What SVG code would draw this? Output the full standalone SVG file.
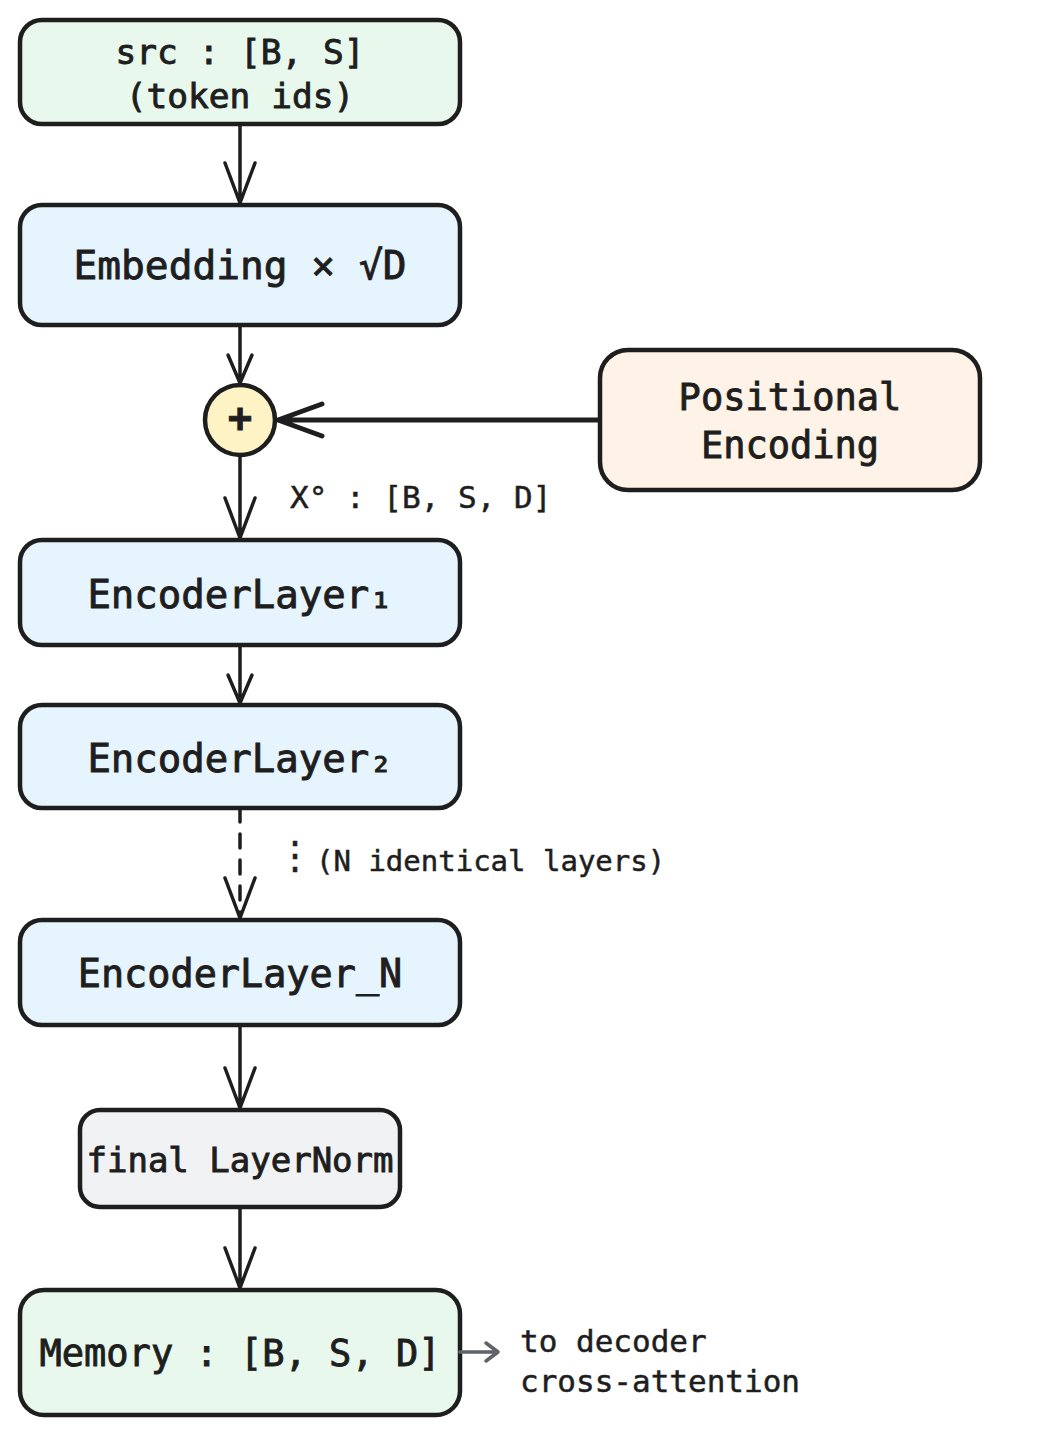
<svg xmlns="http://www.w3.org/2000/svg" width="1060" height="1434" viewBox="0 0 1060 1434">
<style>
.box{stroke:#1e1e1e;stroke-width:4.5;stroke-linejoin:round}
.t{font-family:"DejaVu Sans Mono","Liberation Mono",monospace;fill:#1e1e1e;stroke:#1e1e1e;stroke-width:0.9;text-anchor:middle;dominant-baseline:central}
.l{font-family:"DejaVu Sans Mono","Liberation Mono",monospace;fill:#1e1e1e;stroke:#1e1e1e;stroke-width:0.5;dominant-baseline:central}
.c{stroke:#1e1e1e;stroke-width:3.5;fill:none;stroke-linecap:round;stroke-linejoin:round}
</style>
<rect width="1060" height="1434" fill="#ffffff"/>
<g id="src">
<rect class="box" x="20" y="20" width="440" height="104" rx="22" fill="#e8f8ec"/>
<text class="t" x="240" y="52" font-size="34.5">src : [B, S]</text>
<text class="t" x="240" y="96" font-size="34.5">(token ids)</text>
</g>
<g id="embedding">
<rect class="box" x="20" y="205" width="440" height="120" rx="22" fill="#e6f4fd"/>
<text class="t" x="240" y="265" font-size="39.5">Embedding × √D</text>
</g>
<g id="add">
<circle class="box" cx="240" cy="420" r="35" fill="#fdf3c4"/>
<text class="t" x="240" y="418" font-size="40" font-weight="bold">+</text>
</g>
<g id="posenc">
<rect class="box" x="600" y="350" width="380" height="140" rx="28" fill="#fef3e6"/>
<text class="t" x="790" y="397" font-size="37">Positional</text>
<text class="t" x="790" y="445" font-size="37">Encoding</text>
</g>
<g id="enc1">
<rect class="box" x="20" y="540" width="440" height="105" rx="22" fill="#e6f4fd"/>
<text class="t" x="240" y="594" font-size="39">EncoderLayer₁</text>
</g>
<g id="enc2">
<rect class="box" x="20" y="705" width="440" height="103" rx="22" fill="#e6f4fd"/>
<text class="t" x="240" y="758" font-size="39">EncoderLayer₂</text>
</g>
<g id="encN">
<rect class="box" x="20" y="920" width="440" height="105" rx="22" fill="#e6f4fd"/>
<text class="t" x="240" y="973" font-size="38.5">EncoderLayer_N</text>
</g>
<g id="layernorm">
<rect class="box" x="80" y="1110" width="320" height="97" rx="20" fill="#f1f2f4"/>
<text class="t" x="240" y="1160" font-size="34">final LayerNorm</text>
</g>
<g id="memory">
<rect class="box" x="20" y="1290" width="440" height="125" rx="24" fill="#e8f8ec"/>
<text class="t" x="240" y="1353" font-size="37">Memory : [B, S, D]</text>
</g>
<g id="labels">
<text class="l" x="276" y="856" font-size="38">⋮</text>
<text class="l" x="316" y="861" font-size="29">(N identical layers)</text>
<text class="l" x="290" y="497" font-size="31">X° : [B, S, D]</text>
<text class="l" x="520" y="1341" font-size="31">to decoder</text>
<text class="l" x="520" y="1381" font-size="31">cross-attention</text>
</g>
<g id="connectors">
<path class="c" d="M240 124 V203 M225 163 L240 203 L255 163"/>
<path class="c" d="M240 325 V383 M228 355 L240 383 L252 355"/>
<path class="c" style="stroke-width:5" d="M598 420 H278 M322 404 L278 420 L322 436"/>
<path class="c" d="M240 455 V538 M225 498 L240 538 L255 498"/>
<path class="c" d="M240 645 V703 M228 675 L240 703 L252 675"/>
<path class="c" d="M240 808 V918" stroke-dasharray="14 12"/>
<path class="c" d="M225 878 L240 918 L255 878"/>
<path class="c" d="M240 1025 V1108 M225 1068 L240 1108 L255 1068"/>
<path class="c" d="M240 1207 V1288 M225 1248 L240 1288 L255 1248"/>
<path class="c" style="stroke:#5f6368;stroke-width:3.5" d="M460 1352 H498 M486 1343 L498 1352 L486 1361"/>
</g>
</svg>
